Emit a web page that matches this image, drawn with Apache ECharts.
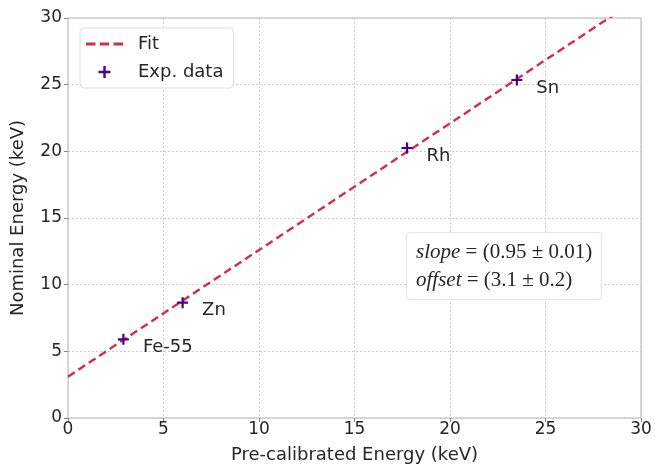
<!DOCTYPE html>
<html><head><meta charset="utf-8">
<script src="https://cdn.jsdelivr.net/npm/echarts@6/dist/echarts.min.js"></script>
<style>html,body{margin:0;padding:0;background:#fff}#c{width:655px;height:465px}</style>
</head><body><div id="c"></div>
<script>
const xTicks = [0, 5, 10, 15, 20, 25, 30];
const yTicks = [0, 5, 10, 15, 20, 25, 30];
const sources = ['Fe-55', 'Zn', 'Rh', 'Sn'];
const preCal = [2.9, 6.0, 17.75, 23.5];
const nominal = [5.9, 8.65, 20.25, 25.35];
const fitX = [0, 30];
const fitY = [3.1, 31.6];
const slopeText = ['0.95', '0.01'];
const offsetText = ['3.1', '0.2'];

const font = 'DejaVu Sans';
const txt = '#262626';
const chart = echarts.init(document.getElementById('c'), null, {renderer: 'canvas'});
const plus = 'path://M4,0H6V4H10V6H6V10H4V6H0V4H4Z';
const dashes = 'path://M0,0H9V3H0Z M13,0H22V3H13Z M26,0H35V3H26Z';
chart.setOption({
  animation: false,
  backgroundColor: '#fff',
  textStyle: {fontFamily: font},
  grid: {left: 68, right: 14, top: 18, bottom: 47, show: true, borderColor: '#b0b0b0', borderWidth: 1,
    containLabel: false, outerBoundsMode: 'none'},
  legend: {
    orient: 'vertical', left: 80, top: 28, padding: [7, 10, 7, 6], itemGap: 10,
    backgroundColor: 'rgba(255,255,255,0.85)', borderColor: '#dddddd', borderWidth: 1, borderRadius: 4,
    itemWidth: 37, itemHeight: 12, symbolKeepAspect: true,
    textStyle: {fontFamily: font, fontSize: 18, color: txt, padding: [0, 0, 0, 10]},
    data: [{name: 'Fit', icon: dashes}, {name: 'Exp. data', icon: plus}]
  },
  xAxis: {
    type: 'value', min: xTicks[0], max: xTicks[xTicks.length - 1], interval: 5,
    name: 'Pre-calibrated Energy (keV)', nameLocation: 'middle', nameGap: 28,
    nameTextStyle: {fontFamily: font, fontSize: 18, color: txt},
    axisLine: {show: false}, axisTick: {show: true, length: 4, lineStyle: {color: '#888'}},
    axisLabel: {fontFamily: font, fontSize: 17, color: txt, margin: 3},
    splitLine: {show: true, lineStyle: {color: '#cccccc', type: [2, 2], width: 1}}
  },
  yAxis: {
    type: 'value', min: yTicks[0], max: yTicks[yTicks.length - 1], interval: 5,
    name: 'Nominal Energy (keV)', nameLocation: 'middle', nameGap: 41, nameRotate: 90,
    nameTextStyle: {fontFamily: font, fontSize: 18, color: txt},
    axisLine: {show: false}, axisTick: {show: true, length: 4, lineStyle: {color: '#888'}},
    axisLabel: {fontFamily: font, fontSize: 17, color: txt, margin: 6},
    splitLine: {show: true, lineStyle: {color: '#cccccc', type: [2, 2], width: 1}}
  },
  series: [
    {
      name: 'Fit', type: 'line', symbol: 'none', clip: true,
      data: fitX.map((x, i) => [x, fitY[i]]),
      lineStyle: {color: '#d62a4e', width: 2.4, type: [8, 4.5]},
      itemStyle: {color: '#d62a4e'}, z: 2
    },
    {
      name: 'Exp. data', type: 'scatter', symbol: plus, symbolSize: 11,
      data: preCal.map((x, i) => ({value: [x, nominal[i]], name: sources[i]})),
      itemStyle: {color: '#4b0082', opacity: 1},
      label: {show: true, position: 'right', distance: 14, offset: [0, 8],
        formatter: p => p.name, fontFamily: font, fontSize: 18, color: txt},
      z: 3
    }
  ],
  graphic: [{
    type: 'text', left: 406, top: 232, z: 10,
    style: {
      rich: {
        i: {fontFamily: 'Liberation Serif', fontStyle: 'italic', fontSize: 21, fill: txt},
        n: {fontFamily: 'Liberation Serif', fontSize: 21, fill: txt}
      },
      text: '{i|slope}{n| = (' + slopeText[0] + ' ± ' + slopeText[1] + ')}\n{i|offset}{n| = (' + offsetText[0] + ' ± ' + offsetText[1] + ')}',
      lineHeight: 28,
      backgroundColor: 'rgba(255,255,255,0.85)', borderColor: '#e6e6e6', borderWidth: 1, borderRadius: 3,
      padding: [5, 9, 5, 9]
    }
  }]
});
</script></body></html>
